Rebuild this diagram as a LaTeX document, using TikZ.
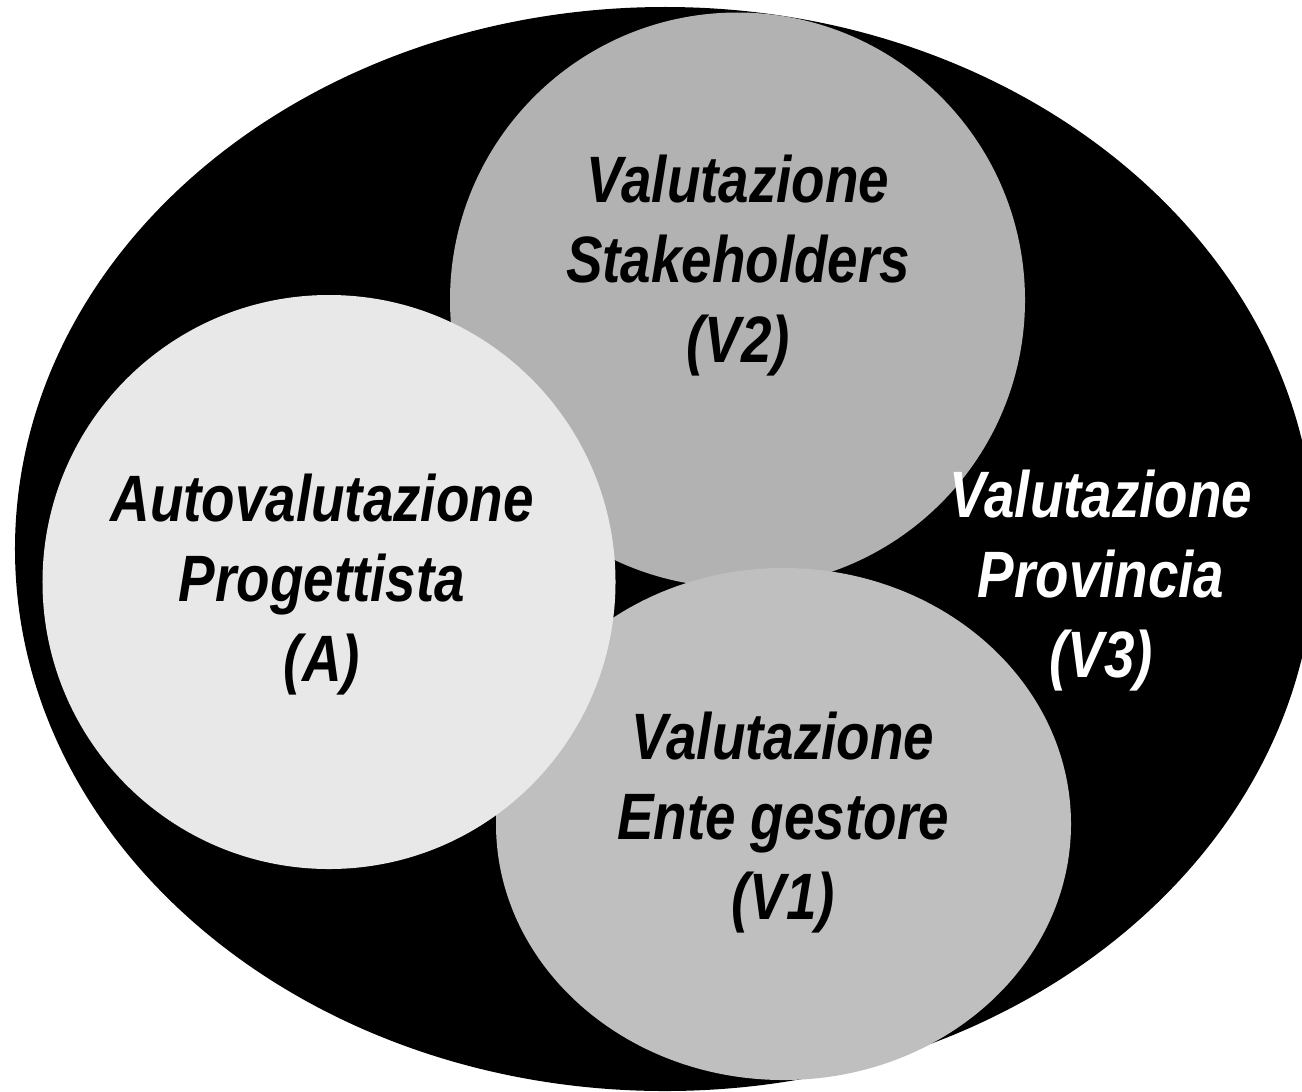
\documentclass[tikz,border=0pt]{standalone}
\usepackage{fontspec}
\setmainfont{Liberation Sans}
\newfontfamily\lblfont{Liberation Sans}[FakeStretch=0.835]
\usetikzlibrary{shapes.geometric}
\definecolor{stakegray}{HTML}{B2B2B2}
\definecolor{entegray}{HTML}{BFBFBF}
\definecolor{autogray}{HTML}{E8E8E8}
\begin{document}
\begin{tikzpicture}[x=1bp,y=-1bp,
  blob/.style={ellipse, draw=none, inner sep=0pt},
  lbl/.style={font=\lblfont\bfseries\itshape\fontsize{65.6bp}{80bp}\selectfont,
              align=center, inner sep=0pt, anchor=base}]
\useasboundingbox (0,0) rectangle (1302,1091);
% outer ellipse: Provincia
\node[blob, fill=black, minimum width=1300bp, minimum height=1084bp] (prov) at (665,549) {};
% Stakeholders
\node[blob, fill=stakegray, minimum width=575bp, minimum height=575bp] (stake) at (737.5,300) {};
% Ente gestore
\node[blob, fill=entegray, minimum width=575bp, minimum height=512bp] (ente) at (783.5,824) {};
% Autovalutazione
\node[blob, fill=autogray, minimum width=573bp, minimum height=574bp] (auto) at (329,582) {};
% labels (anchor = baseline of the last line)
\node[lbl] (tauto) at (322,681) {Autovalutazione\\Progettista\\(A)};
\node[lbl] (tstake) at (738,362) {Valutazione\\Stakeholders\\(V2)};
\node[lbl] (tente) at (783,919) {Valutazione\\Ente gestore\\(V1)};
\node[lbl, text=white] (tprov) at (1101,677) {Valutazione\\Provincia\\(V3)};
\end{tikzpicture}
\end{document}
